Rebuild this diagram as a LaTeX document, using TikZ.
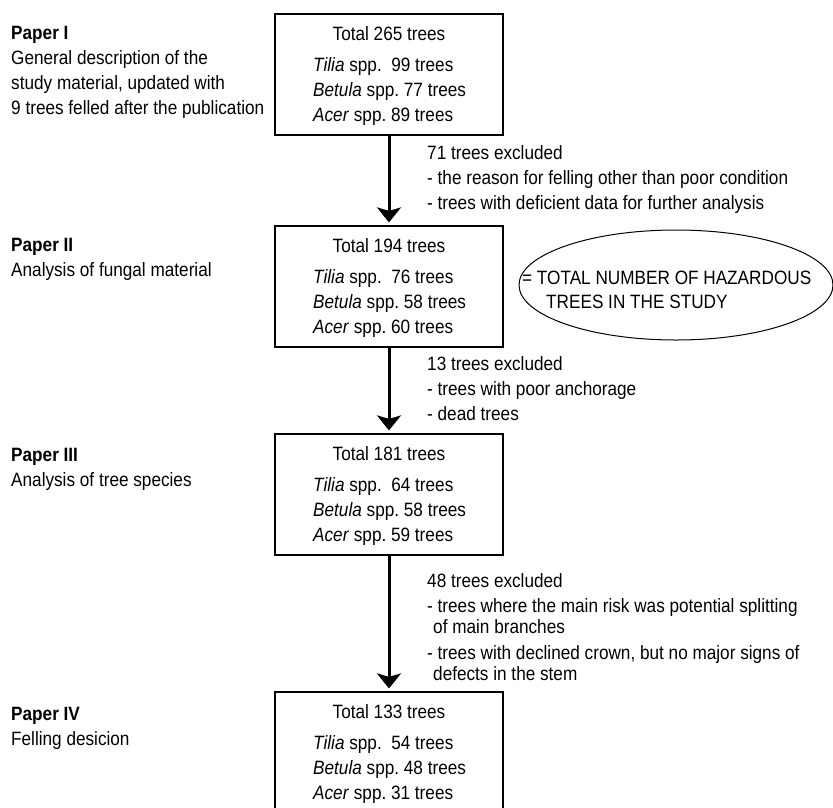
\documentclass[tikz,border=0pt]{standalone}
\usepackage{fontspec}
\setmainfont{Liberation Sans}[FakeStretch=0.89]
\usetikzlibrary{arrows.meta,shapes.geometric}
\newcommand{\diafont}{\fontsize{19.3}{25}\selectfont}
\frenchspacing
\begin{document}
\begin{tikzpicture}[x=1pt,y=-1pt,
  txt/.style={inner sep=0pt, anchor=base west, font=\diafont},
  ctxt/.style={inner sep=0pt, anchor=base, font=\diafont},
  box/.style={draw, line width=1.2pt, minimum width=228pt, minimum height=121pt, inner sep=0pt},
  arr/.style={line width=3pt, -{Stealth[length=15pt, width=24pt, inset=3.5pt]}, shorten >=3pt},
  oval/.style={draw, ellipse, line width=1pt, minimum width=314pt, minimum height=110pt, inner sep=0pt}]
\useasboundingbox (0,0) rectangle (833,807);
\clip (0,0) rectangle (833,807);
% boxes
\node[box] (b1) at (389,74.5) {};
\node[box] (b2) at (389,286.5) {};
\node[box] (b3) at (389,494.5) {};
\node[box] (b4) at (389,752.5) {};
% box texts
\node[ctxt] (t1) at (389,40.5) {Total 265 trees};
\node[txt] (t1a) at (313,71.5) {\textit{Tilia} spp.\ \ 99 trees};
\node[txt] (t1b) at (313,96.5) {\textit{Betula} spp. 77 trees};
\node[txt] (t1c) at (313,121.5) {\textit{Acer} spp. 89 trees};
\node[ctxt] (t2) at (389,252.5) {Total 194 trees};
\node[txt] (t2a) at (313,283.5) {\textit{Tilia} spp.\ \ 76 trees};
\node[txt] (t2b) at (313,308.5) {\textit{Betula} spp. 58 trees};
\node[txt] (t2c) at (313,333.5) {\textit{Acer} spp. 60 trees};
\node[ctxt] (t3) at (389,460.5) {Total 181 trees};
\node[txt] (t3a) at (313,491.5) {\textit{Tilia} spp.\ \ 64 trees};
\node[txt] (t3b) at (313,516.5) {\textit{Betula} spp. 58 trees};
\node[txt] (t3c) at (313,541.5) {\textit{Acer} spp. 59 trees};
\node[ctxt] (t4) at (389,718.5) {Total 133 trees};
\node[txt] (t4a) at (313,749.5) {\textit{Tilia} spp.\ \ 54 trees};
\node[txt] (t4b) at (313,774.5) {\textit{Betula} spp. 48 trees};
\node[txt] (t4c) at (313,799.5) {\textit{Acer} spp. 31 trees};
% arrows
\draw[arr] (b1.south) -- (b2.north);
\draw[arr] (b2.south) -- (b3.north);
\draw[arr] (b3.south) -- (b4.north);
% left column
\node[txt] (p1) at (11,39) {\textbf{Paper I}};
\node[txt] (p1a) at (11,64) {General description of the};
\node[txt] (p1b) at (11,89) {study material, updated with};
\node[txt] (p1c) at (11,114) {9 trees felled after the publication};
\node[txt] (p2) at (11,251) {\textbf{Paper II}};
\node[txt] (p2a) at (11,276) {Analysis of fungal material};
\node[txt] (p3) at (11,461) {\textbf{Paper III}};
\node[txt] (p3a) at (11,486) {Analysis of tree species};
\node[txt] (p4) at (11,720) {\textbf{Paper IV}};
\node[txt] (p4a) at (11,745) {Felling desicion};
% exclusions
\node[txt] (e1) at (427,159) {71 trees excluded};
\node[txt] (e1a) at (427,184) {- the reason for felling other than poor condition};
\node[txt] (e1b) at (427,209) {- trees with deficient data for further analysis};
\node[txt] (e2) at (427,370) {13 trees excluded};
\node[txt] (e2a) at (427,395) {- trees with poor anchorage};
\node[txt] (e2b) at (427,420) {- dead trees};
\node[txt] (e3) at (427,587) {48 trees excluded};
\node[txt] (e3a) at (427,612) {- trees where the main risk was potential splitting};
\node[txt] (e3b) at (433,633.5) {of main branches};
\node[txt] (e3c) at (427,659) {- trees with declined crown, but no major signs of};
\node[txt] (e3d) at (433,680.5) {defects in the stem};
% ellipse
\node[oval] (ell) at (676,285) {};
\node[txt] (el1) at (522,284) {= TOTAL NUMBER OF HAZARDOUS};
\node[txt] (el2) at (546,308) {TREES IN THE STUDY};
\end{tikzpicture}
\end{document}
